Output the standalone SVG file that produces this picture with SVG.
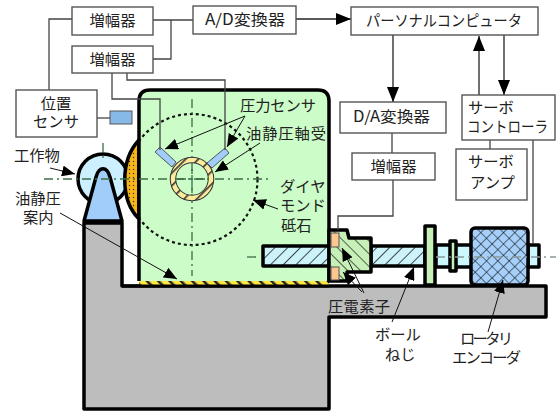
<svg xmlns="http://www.w3.org/2000/svg" width="560" height="417" viewBox="0 0 560 417">
<style>
.t{font-family:"Noto Sans CJK JP","Noto Sans",sans-serif;font-size:15.300px;fill:#222}
.m{text-anchor:middle}
.box{fill:#fff;stroke:#555;stroke-width:1.400}
.w{fill:none;stroke:#444;stroke-width:1.300}
.ar{fill:none;stroke:#111;stroke-width:1}
.ma{fill:none;stroke:#222;stroke-width:1.300}
.k{stroke:#000;stroke-width:3.500;stroke-linejoin:round}
.cl{fill:none;stroke:#3c6e46;stroke-width:1.300;stroke-dasharray:9 4 2 4}
</style>
<defs>
<marker id="a" markerUnits="userSpaceOnUse" markerWidth="14" markerHeight="11" refX="13" refY="5.500" orient="auto"><path d="M0,0L13,5.500L0,11Z" fill="#000"/></marker>
<marker id="b" markerUnits="userSpaceOnUse" markerWidth="16" markerHeight="12" refX="15" refY="6" orient="auto"><path d="M0,0L15,6L0,12Z" fill="#000"/></marker>
<pattern id="h1" width="9" height="9" patternUnits="userSpaceOnUse" patternTransform="rotate(45)"><rect width="9" height="9" fill="#ccf2fa"/><line x1="0" y1="0" x2="0" y2="9" stroke="#000" stroke-width="1.400"/></pattern>
<pattern id="h2" width="9" height="9" patternUnits="userSpaceOnUse" patternTransform="rotate(-45)"><rect width="9" height="9" fill="#c6f0b8"/><line x1="0" y1="0" x2="0" y2="9" stroke="#000" stroke-width="1.200"/></pattern>
<pattern id="x" width="8" height="8" patternUnits="userSpaceOnUse" patternTransform="rotate(45)"><rect width="8" height="8" fill="#a6d0fa"/><path d="M0,0V8M0,0H8" stroke="#000" stroke-width="1.100" fill="none"/></pattern>
<pattern id="d" width="4" height="4" patternUnits="userSpaceOnUse"><rect width="4" height="4" fill="#f7b516"/><circle cx="1.500" cy="1.500" r=".7" fill="#333"/></pattern>
<pattern id="y" width="8" height="8" patternUnits="userSpaceOnUse" patternTransform="rotate(-45)"><rect width="8" height="8" fill="#ffe640"/><rect width="2.500" height="8" fill="#222"/></pattern>
<pattern id="r" width="9" height="9" patternUnits="userSpaceOnUse" patternTransform="rotate(45)"><rect width="9" height="9" fill="#fdeb9c"/><rect width="1.600" height="9" fill="#333"/></pattern>
<clipPath id="c"><rect x="140" y="92" width="188" height="188"/></clipPath>
</defs>

<g id="base"><path class="k" fill="#bdbdbd" d="M84,223H122V286H546V317H329V409H84Z"/></g>
<g id="workpiece"><circle class="k" cx="103" cy="179" r="25" fill="#ccf0ff"/><path class="cl" d="M103,143V162"/></g>
<g id="shoe"><path class="k" fill="url(#d)" d="M139,140C120,160 120,200 139,219Z"/></g>
<g id="support"><path class="k" fill="#a0cdfa" d="M84,221L96,177C99,166 107,166 110,177L122,221Z"/><rect x="84" y="220" width="38" height="4" fill="#000"/></g>
<g id="wheelhead">
<path class="k" fill="#ccfcc8" d="M139,281V101Q139,90 150,90H318Q329,90 329,101V281"/>
<rect x="139" y="281" width="190" height="4" fill="url(#y)"/>
<path d="M122,286H329" stroke="#000" stroke-width="3"/>
<circle cx="192" cy="179.500" r="65.500" fill="none" stroke="#111" stroke-width="2.200" stroke-dasharray="3 3" clip-path="url(#c)"/>
<path class="cl" d="M192,99V276"/><path class="cl" d="M44,179H272"/>
</g>
<g id="bearing"><circle cx="192" cy="179" r="19" fill="none" stroke="#333" stroke-width="6.500"/><circle cx="192" cy="179" r="19" fill="none" stroke="url(#r)" stroke-width="4.500"/><path class="cl" d="M192,165V193M175,179H210"/></g>
<g id="sensor-l"><path d="M160,147L155,152L172,167L176,162Z" fill="#a0cdfa" stroke="#555" stroke-width="1"/></g>
<g id="sensor-r"><path d="M225,148L229,153L212,168L207,163Z" fill="#a0cdfa" stroke="#555" stroke-width="1"/></g>
<g id="screw">
<rect class="k" x="263" y="246" width="66" height="20" fill="url(#h1)"/>
<rect class="k" x="371" y="246" width="54" height="20" fill="url(#h1)"/>
<path class="cl" d="M247,257H260"/>
</g>
<g id="nut"><path class="k" fill="url(#h2)" d="M329,230H347L349,238H371V272H347V281H329Z"/><rect x="331" y="233" width="8" height="14" fill="#fcc68c" stroke="#555"/><rect x="331" y="267" width="8" height="13" fill="#fcc68c" stroke="#555"/></g>
<g id="shaft">
<rect class="k" x="436" y="245" width="36" height="22" fill="#ccf7fd"/>
<rect class="k" x="528" y="245" width="11" height="22" fill="#ccf7fd"/>
<rect class="k" x="425" y="226" width="10" height="59" fill="#c6f0b8"/>
<rect class="k" x="450" y="241" width="6" height="30" fill="#c6f0b8"/>
</g>
<g id="encoder"><rect class="k" x="471" y="228" width="57" height="57" rx="4" fill="url(#x)"/></g>
<path d="M436,257H556" fill="none" stroke="#8a9a9a" stroke-width="1.300" stroke-dasharray="9 4 2 4"/>

<g id="connectors">
<path class="w" d="M72,19H49V90M153,20H193M171,20V59H153"/>
<path class="w" d="M112,73V99H160V150M127,73V80H225V150"/>
<path class="w" d="M97,118H110"/>
<path class="w" d="M392,133V153M393,180V216H338V230M490,140V149M533,140V244"/>
<path class="ma" marker-end="url(#b)" d="M296,19H351"/>
<path class="ma" marker-end="url(#b)" d="M393,35V102"/>
<path class="ma" marker-end="url(#b)" d="M479,95V36"/>
<path class="ma" marker-end="url(#b)" d="M504,35V95"/>
<path class="ar" marker-end="url(#a)" d="M245,116L165,149"/>
<path class="ar" marker-end="url(#a)" d="M245,116L227,147"/>
<path class="ar" marker-end="url(#a)" d="M260,143L215,172"/>
<path class="ar" marker-end="url(#a)" d="M278,209L253,200"/>
<path class="ar" marker-end="url(#a)" d="M50,168L75,174"/>
<path class="ar" marker-end="url(#a)" d="M60,213L177,279"/>
<path class="ar" marker-end="url(#a)" d="M364,293L342,248"/>
<path class="ar" marker-end="url(#a)" d="M362,292L343,272"/>
<path class="ar" marker-end="url(#a)" d="M392,322L414,267"/>
<path class="ar" marker-end="url(#a)" d="M488,332L503,280"/>
</g>

<g id="amp1"><rect class="box" x="72" y="7" width="81" height="28"/><text class="t m" x="112.500" y="26">増幅器</text></g>
<g id="amp2"><rect class="box" x="72" y="46" width="81" height="27"/><text class="t m" x="112.500" y="65">増幅器</text></g>
<g id="ad"><rect class="box" x="193" y="6" width="103" height="28"/><text class="t" x="205" y="25" textLength="80" lengthAdjust="spacingAndGlyphs">A/D変換器</text></g>
<g id="pc"><rect class="box" x="351" y="7" width="187" height="28"/><text class="t" x="366" y="26" textLength="156" lengthAdjust="spacingAndGlyphs">パーソナルコンピュータ</text></g>
<g id="da"><rect class="box" x="340" y="102" width="106" height="31"/><text class="t" x="353" y="122" textLength="77" lengthAdjust="spacingAndGlyphs">D/A変換器</text></g>
<g id="amp3"><rect class="box" x="352" y="153" width="83" height="27"/><text class="t m" x="393.500" y="172">増幅器</text></g>
<g id="controller"><rect class="box" x="462" y="95" width="93" height="45"/><text class="t" x="468" y="113">サーボ</text><text class="t" x="467" y="132" textLength="81" lengthAdjust="spacingAndGlyphs">コントローラ</text></g>
<g id="servoamp"><rect class="box" x="456" y="149" width="71" height="51"/><text class="t" x="468" y="167">サーボ</text><text class="t" x="470" y="188">アンプ</text></g>
<g id="position"><rect class="box" x="16" y="90" width="81" height="47"/><text class="t m" x="56" y="109">位置</text><text class="t m" x="56" y="127">センサ</text><rect x="110" y="111" width="22" height="13" fill="#87b9e8" stroke="#555"/></g>

<g id="labels">
<text class="t" x="14" y="161">工作物</text>
<text class="t" x="15" y="204">油静圧</text>
<text class="t" x="23" y="223">案内</text>
<text class="t" x="240" y="111" textLength="76">圧力センサ</text>
<text class="t" x="246" y="139" textLength="80">油静圧軸受</text>
<text class="t" x="280" y="192">ダイヤ</text>
<text class="t" x="280" y="211">モンド</text>
<text class="t" x="281" y="231">砥石</text>
<text class="t" x="328" y="312" textLength="62">圧電素子</text>
<text class="t" x="375" y="340">ボール</text>
<text class="t" x="385" y="360">ねじ</text>
<text class="t" x="460" y="344" textLength="53">ロータリ</text>
<text class="t" x="452" y="363" textLength="69">エンコーダ</text>
</g>
</svg>
